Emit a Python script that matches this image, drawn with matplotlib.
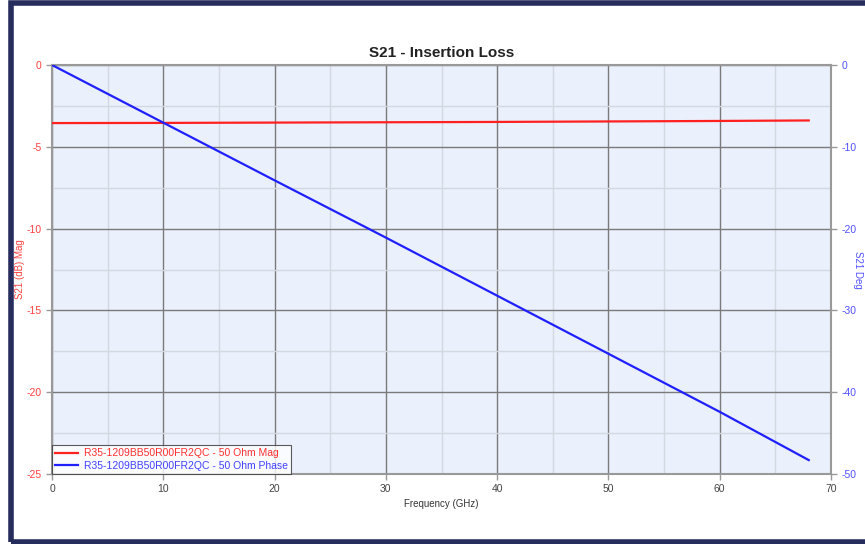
import matplotlib
matplotlib.use("Agg")
import matplotlib.pyplot as plt
from matplotlib.patches import Rectangle
from matplotlib.ticker import MultipleLocator

plt.rcParams['font.family'] = ['Liberation Sans', 'DejaVu Sans']
plt.rcParams['axes.unicode_minus'] = False

freq_ghz = [0, 10, 20, 30, 40, 50, 60, 68]
mag_db = [-3.55, -3.54, -3.52, -3.50, -3.48, -3.45, -3.42, -3.39]
phase_deg = [0.0, -7.05, -14.1, -21.1, -28.2, -35.3, -42.4, -48.3]

title = "S21 - Insertion Loss"
mag_label = "R35-1209BB50R00FR2QC - 50 Ohm Mag"
phase_label = "R35-1209BB50R00FR2QC - 50 Ohm Phase"

W, H = 865, 544
fig = plt.figure(figsize=(W / 100, H / 100), dpi=100)

# outer frame
fig.patches.append(Rectangle((11 / W, 2.5 / H), (W + 20) / W, (H - 5) / H,
                             transform=fig.transFigure, fill=False,
                             edgecolor='#262c5c', linewidth=4, zorder=0))

ax = fig.add_axes([52 / W, (H - 474) / H, (831 - 52) / W, (474 - 65) / H])
ax.set_facecolor('#eaf0fc')
ax.set_xlim(0, 70)
ax.set_ylim(-25, 0)
ax.xaxis.set_major_locator(MultipleLocator(10))
ax.xaxis.set_minor_locator(MultipleLocator(5))
ax.yaxis.set_major_locator(MultipleLocator(5))
ax.yaxis.set_minor_locator(MultipleLocator(2.5))
ax.grid(which='major', color='#7a7a7a', linewidth=1.0)
ax.grid(which='minor', color='#d4d8e0', linewidth=1.0)
ax.set_axisbelow(True)
for s in ax.spines.values():
    s.set_color('#999999')
    s.set_linewidth(1.5)

ax.tick_params(axis='x', which='major', colors='#999999', labelcolor='#444444',
               labelsize=7.5, length=4, width=1, direction='out')
ax.tick_params(axis='y', which='major', colors='#999999', labelcolor='#ff4040',
               labelsize=7.5, length=4, width=1, direction='out')
ax.tick_params(which='minor', length=0)

l1, = ax.plot(freq_ghz, mag_db, color='#ff2020', linewidth=1.6, label=mag_label, zorder=3)

ax2 = ax.twinx()
ax2.set_ylim(-50, 0)
ax2.yaxis.set_major_locator(MultipleLocator(10))
ax2.tick_params(axis='y', colors='#999999', labelcolor='#5050ff',
                labelsize=7.5, length=4, width=1, direction='out')
for s in ax2.spines.values():
    s.set_visible(False)
l2, = ax2.plot(freq_ghz, phase_deg, color='#2020ff', linewidth=1.6, label=phase_label, zorder=3)

ax.set_title(title, fontsize=11, fontweight='bold', color='#222222', pad=6)
ax.set_xlabel("Frequency (GHz)", fontsize=7, color='#333333', labelpad=3)
ax.set_ylabel("S21 (dB) Mag", fontsize=7, color='#ff4040', va='center')
ax.yaxis.set_label_coords((20 - 52) / 779, 0.5)
ax2.set_ylabel("S21 Deg", fontsize=7, color='#5050ff', rotation=270, va='center')
ax2.yaxis.set_label_coords((858 - 52) / 779, 0.5)

leg = ax2.legend(handles=[l1, l2], loc='lower left', fontsize=7.5, frameon=True,
                 fancybox=False, borderaxespad=0, handlelength=2.2,
                 borderpad=0.3, labelspacing=0.25, handletextpad=0.6)
leg.get_frame().set_edgecolor('#333333')
leg.get_frame().set_linewidth(0.8)
for t, c in zip(leg.get_texts(), ['#ff3030', '#4040ff']):
    t.set_color(c)

fig.savefig("out.png", dpi=100)
